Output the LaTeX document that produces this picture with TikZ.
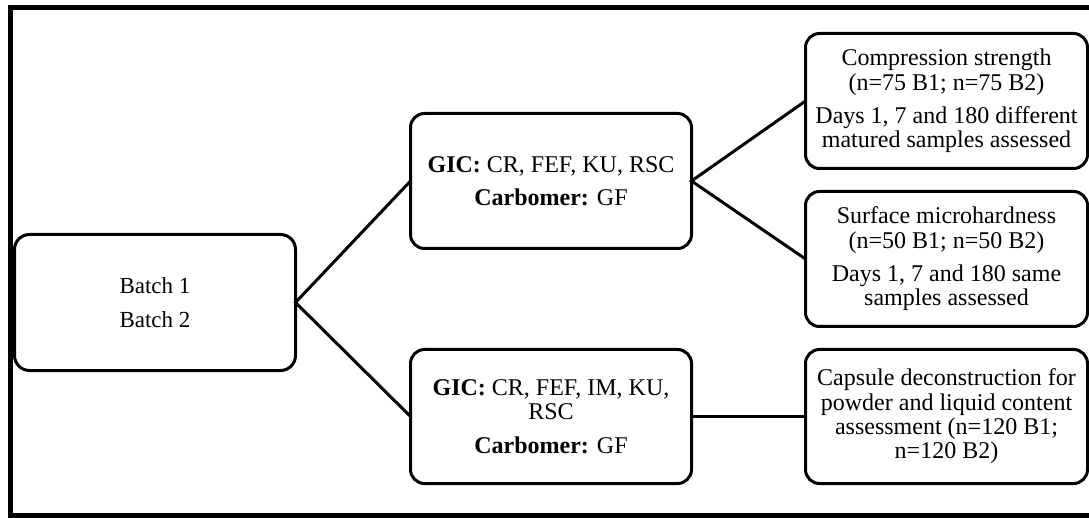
\documentclass[tikz,border=0pt]{standalone}
\usepackage{fontspec}
\setmainfont{Liberation Serif}
\begin{document}
\begin{tikzpicture}[x=1pt,y=-1pt,
  box/.style={draw=black, line width=3pt, rounded corners=14pt, inner sep=0pt, outer sep=0pt,
    align=center, font=\fontsize{24}{24.3}\selectfont},
  conn/.style={draw=black, line width=3pt},
  frame/.style={draw=black, line width=5pt}]
\useasboundingbox (0,0) rectangle (1089,518);
\draw[frame] (1089,7.5) -- (10,7.5) -- (10,515.5) -- (1089,515.5);
\node[box, minimum width=281pt, minimum height=136pt, rounded corners=15pt] (batch) at (155,302.5)
  {\fontsize{23}{24.3}\selectfont Batch 1\\[9pt]\fontsize{23}{24.3}\selectfont Batch 2};
\node[box, minimum width=281pt, minimum height=135pt] (gic1) at (551,181)
  {\textbf{GIC:} CR, FEF, KU, RSC\\[9pt]\textbf{Carbomer:} GF};
\node[box, minimum width=281pt, minimum height=134pt] (gic2) at (551,416.5)
  {\textbf{GIC:} CR, FEF, IM, KU,\\RSC\\[9pt]\textbf{Carbomer:} GF};
\node[box, minimum width=282pt, minimum height=135pt] (cs) at (946.5,101)
  {Compression strength\\(n=75 B1; n=75 B2)\\[9pt]Days 1, 7 and 180 different\\matured samples assessed};
\node[box, minimum width=282pt, minimum height=135pt] (sm) at (946.5,259)
  {Surface microhardness\\(n=50 B1; n=50 B2)\\[9pt]Days 1, 7 and 180 same\\samples assessed};
\node[box, minimum width=282pt, minimum height=134pt] (cd) at (946.5,416.5)
  {Capsule deconstruction for\\powder and liquid content\\assessment (n=120 B1;\\n=120 B2)};
\draw[conn] (gic1.west) -- (batch.east) -- (gic2.west);
\draw[conn] (cs.west) -- (gic1.east) -- (sm.west);
\draw[conn] (gic2.east) -- (cd.west);
\end{tikzpicture}
\end{document}
